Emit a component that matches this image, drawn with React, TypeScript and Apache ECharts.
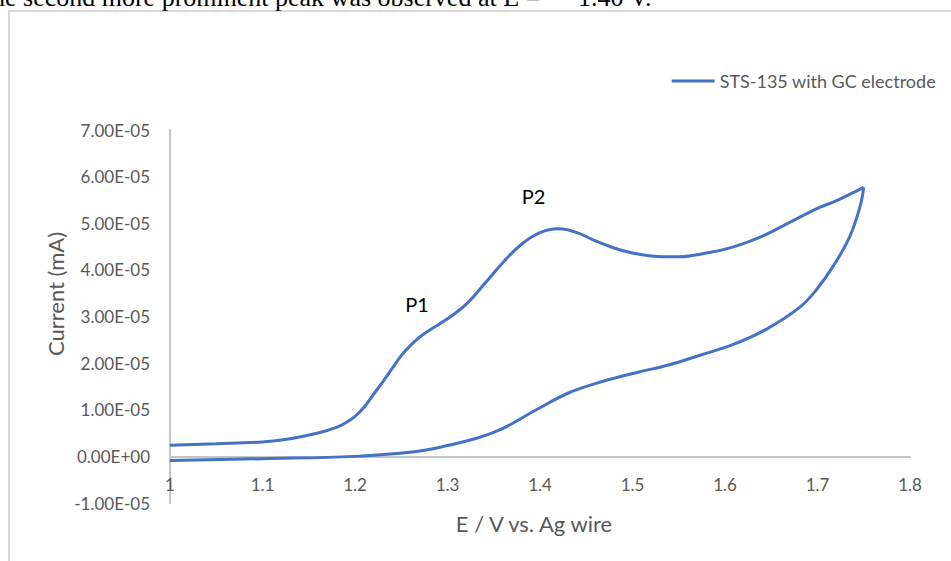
import React, { useEffect, useRef } from "react";
import * as echarts from "echarts";

// Forward (oxidation) sweep: potential (V) and current (mA)
const forwardPotential = [
  1.0, 1.05, 1.1, 1.13, 1.16, 1.18, 1.19, 1.2, 1.21, 1.22, 1.23, 1.24, 1.25, 1.26, 1.27, 1.28,
  1.3, 1.32, 1.34, 1.36, 1.38, 1.4, 1.42, 1.44, 1.46, 1.48, 1.5, 1.52, 1.55, 1.58, 1.61,
  1.64, 1.67, 1.7, 1.72, 1.75,
];
const forwardCurrent = [
  0.24e-5, 0.27e-5, 0.31e-5, 0.38e-5, 0.5e-5, 0.62e-5, 0.72e-5, 0.86e-5, 1.06e-5, 1.33e-5,
  1.6e-5, 1.88e-5, 2.16e-5, 2.38e-5, 2.56e-5, 2.7e-5, 2.95e-5, 3.26e-5, 3.7e-5, 4.16e-5,
  4.55e-5, 4.8e-5, 4.88e-5, 4.8e-5, 4.62e-5, 4.47e-5, 4.36e-5, 4.3e-5, 4.28e-5, 4.36e-5,
  4.5e-5, 4.72e-5, 5.02e-5, 5.32e-5, 5.48e-5, 5.77e-5,
];

// Reverse sweep
const reversePotential = [
  1.75, 1.746, 1.735, 1.717, 1.699, 1.681, 1.645, 1.609, 1.573, 1.541, 1.505, 1.468, 1.432,
  1.397, 1.36, 1.335, 1.295, 1.259, 1.2, 1.1, 1.0,
];
const reverseCurrent = [
  5.77e-5, 5.36e-5, 4.72e-5, 4.08e-5, 3.58e-5, 3.2e-5, 2.73e-5, 2.4e-5, 2.17e-5, 1.97e-5,
  1.8e-5, 1.61e-5, 1.37e-5, 1.01e-5, 0.6e-5, 0.41e-5, 0.21e-5, 0.086e-5, 0.0, -0.05e-5,
  -0.09e-5,
];

// Peak annotations
const peakLabels = ["P1", "P2"];
const peakPotential = [1.267, 1.393];
const peakCurrent = [3.26e-5, 5.58e-5];

const seriesName = "STS-135 with GC electrode";
const xTitle = "E / V vs. Ag wire";
const yTitle = "Current (mA)";
const docTextA = "he second more prominent peak was observed at E =";
const docTextB = "1.40 V.";

const FONT = "Lato";
const SERIF = "'Liberation Serif', 'Times New Roman', serif";
const GRAY = "#595959";
const BLUE = "#4472C4";

function sci(v: number): string {
  const s = v.toExponential(2);
  const [m, e] = s.split("e");
  const sign = e[0] === "-" ? "-" : "+";
  const digits = e.replace(/^[+-]/, "").padStart(2, "0");
  return m.toUpperCase() + "E" + sign + digits;
}

export default function App() {
  const ref = useRef<HTMLDivElement>(null);
  useEffect(() => {
    if (!ref.current) return;
    const chart = echarts.init(ref.current, null, { renderer: "svg" });
    const fwd = forwardPotential.map((x, i) => [x, forwardCurrent[i]]);
    const rev = reversePotential.map((x, i) => [x, reverseCurrent[i]]);
    chart.setOption({
      animation: false,
      backgroundColor: "#ffffff",
      textStyle: { fontFamily: FONT },
      grid: { left: 170, right: 41, top: 130, bottom: 58, containLabel: false },
      legend: {
        right: 10,
        top: 67,
        itemWidth: 43,
        itemHeight: 3,
        icon: "rect",
        itemStyle: { color: BLUE },
        textStyle: { color: GRAY, fontSize: 18, fontFamily: FONT },
        data: [seriesName],
      },
      xAxis: {
        type: "value",
        min: 1,
        max: 1.8,
        interval: 0.1,
        splitLine: { show: false },
        axisTick: { show: false },
        axisLine: { onZero: true, lineStyle: { color: "#c4c4c4", width: 2 } },
        axisLabel: { color: GRAY, fontSize: 17, margin: -27, fontFamily: FONT },
      },
      yAxis: {
        type: "value",
        min: -1e-5,
        max: 7e-5,
        interval: 1e-5,
        splitLine: { show: false },
        axisTick: { show: false },
        axisLine: { show: true, onZero: false, lineStyle: { color: "#c4c4c4", width: 2 } },
        axisLabel: {
          color: GRAY,
          fontSize: 17,
          margin: 20,
          fontFamily: FONT,
          formatter: (v: number) => sci(v),
        },
      },
      series: [
        {
          name: seriesName,
          type: "line",
          data: fwd,
          smooth: 0.4,
          symbol: "none",
          lineStyle: { color: BLUE, width: 3 },
          itemStyle: { color: BLUE },
          markPoint: {
            symbol: "circle",
            symbolSize: 1,
            itemStyle: { color: "rgba(0,0,0,0)" },
            label: {
              show: true,
              position: "inside",
              formatter: "{b}",
              color: "#000000",
              fontSize: 20,
              fontFamily: FONT,
            },
            data: peakLabels.map((n, i) => ({ name: n, coord: [peakPotential[i], peakCurrent[i]] })),
          },
        },
        {
          name: seriesName,
          type: "line",
          data: rev,
          smooth: 0.4,
          symbol: "none",
          lineStyle: { color: BLUE, width: 3 },
          itemStyle: { color: BLUE },
        },
      ],
      graphic: [
        {
          type: "rect",
          shape: { x: 9, y: 11, width: 1000, height: 600 },
          style: { fill: "none", stroke: "#d9d9d9", lineWidth: 2 },
          silent: true,
        },
        {
          type: "text",
          x: -8,
          y: 10,
          style: {
            text: docTextA,
            fontSize: 26,
            fontFamily: SERIF,
            fill: "#000000",
            verticalAlign: "bottom",
          },
        },
        {
          type: "text",
          x: 578,
          y: 10,
          style: {
            text: docTextB,
            fontSize: 26,
            fontFamily: SERIF,
            fill: "#000000",
            verticalAlign: "bottom",
          },
        },
        {
          type: "text",
          x: 534,
          y: 523,
          style: {
            text: xTitle,
            fontSize: 22,
            fontFamily: FONT,
            fill: GRAY,
            align: "center",
            verticalAlign: "middle",
          },
        },
        {
          type: "text",
          x: 55,
          y: 294,
          rotation: Math.PI / 2,
          style: {
            text: yTitle,
            fontSize: 22,
            fontFamily: FONT,
            fill: GRAY,
            align: "center",
            verticalAlign: "middle",
          },
        },
      ],
    });
    return () => chart.dispose();
  }, []);
  return (
    <div
      ref={ref}
      style={{ position: "fixed", left: 0, top: 0, width: 951, height: 561, background: "#fff" }}
    />
  );
}
